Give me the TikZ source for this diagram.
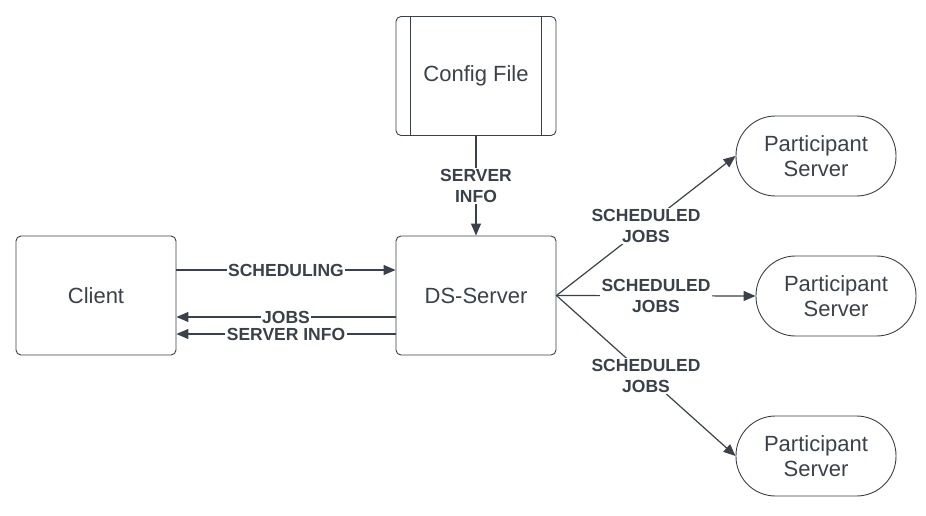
\documentclass[tikz,border=0pt]{standalone}
\usepackage{fontspec}
\setmainfont{Liberation Sans}
\usetikzlibrary{arrows.meta}
\definecolor{ink}{HTML}{3A414A}

\begin{document}
\begin{tikzpicture}[x=1pt,y=-1pt,>={Triangle[length=12pt,width=10pt]},
    box/.style={draw=ink,line width=0.9pt,rounded corners=5pt,minimum width=160pt,minimum height=119pt,text=ink,font=\fontsize{22}{25}\selectfont},
    pill/.style={draw=ink,line width=0.9pt,rounded corners=39.5pt,minimum width=160pt,minimum height=80pt,text=ink,align=center,font=\fontsize{22}{25}\selectfont},
    lbl/.style={fill=white,inner sep=1.5pt,text=ink,align=center,font=\fontsize{17.5}{21}\selectfont\bfseries},
    link/.style={draw=ink,line width=1.2pt}]
  \useasboundingbox (0,0) rectangle (926,516);
  \node[box] (cfg) at (476,76) {Config File};
  \node[box] (client) at (96,295.5) {Client};
  \node[box] (ds) at (476,295.5) {DS-Server};
  \node[pill] (ps1) at (816,156) {Participant\\Server};
  \node[pill] (ps2) at (836,296) {Participant\\Server};
  \node[pill] (ps3) at (816,456) {Participant\\Server};
  \draw[draw=ink,line width=0.9pt] ([xshift=15pt]cfg.north west) -- ([xshift=15pt]cfg.south west)
    ([xshift=-15pt]cfg.north east) -- ([xshift=-15pt]cfg.south east);
  \draw[link,->] (cfg) -- (ds) node[midway,lbl] {SERVER\\INFO};
  \draw[link,->] ([yshift=25.5pt]client.east) -- ([yshift=25.5pt]ds.west) node[midway,lbl] {SCHEDULING};
  \draw[link,->] ([yshift=-21.5pt]ds.west) -- ([yshift=-21.5pt]client.east) node[midway,lbl] {JOBS};
  \draw[link,->] ([yshift=-38.5pt]ds.west) -- ([yshift=-38.5pt]client.east) node[midway,lbl] {SERVER INFO};
  \draw[link,->] (ds.east) -- (ps1.west) node[midway,lbl] {SCHEDULED\\JOBS};
  \draw[link,->] (ds.east) -- (ps2.west) node[midway,lbl] {SCHEDULED\\JOBS};
  \draw[link,->] (ds.east) -- (ps3.west) node[midway,lbl] {SCHEDULED\\JOBS};
\end{tikzpicture}
\end{document}
